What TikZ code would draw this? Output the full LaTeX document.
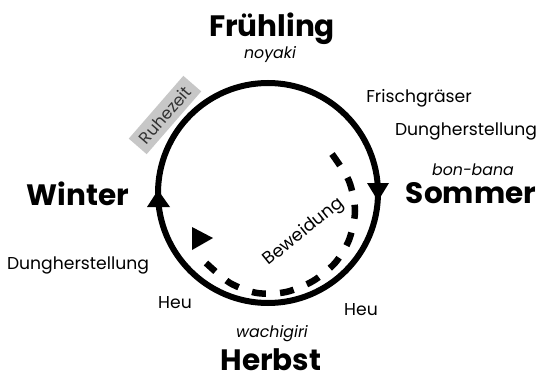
\documentclass[tikz,border=0pt]{standalone}
\usepackage{fontspec}
\setmainfont{Poppins}
\usetikzlibrary{arrows.meta}
\begin{document}
\begin{tikzpicture}[x=1pt,y=-1pt,
  season/.style={font=\fontsize{29.5}{30}\selectfont\bfseries, anchor=base, inner sep=0pt},
  jp/.style={font=\fontsize{15.8}{16}\selectfont\itshape, anchor=base, inner sep=0pt},
  lbl/.style={font=\fontsize{17.2}{18}\selectfont, anchor=base, inner sep=0pt},
  ring/.style={line width=6pt},
  dashring/.style={line width=6.5pt, dash pattern=on 14pt off 14.2pt},
  tri/.style={fill=black}]
\useasboundingbox (0,0) rectangle (539,380);
% main cycle
\coordinate (c) at (268,193);
\draw[ring] (c) circle [radius=110];
% arrowheads on the ring
\fill[tri] (158,190) -- (170,207) -- (147,207) -- cycle;
\fill[tri] (378,201) -- (367,183) -- (389,183) -- cycle;
% dashed grazing path
\draw[dashring] plot[smooth] coordinates {(332,154) (349,181) (355,211) (349,240) (335,263) (313,281) (286,292) (257,293) (230,283) (206,263)};
\fill[tri] (213,238) -- (192,227) -- (192,250) -- cycle;
% seasons
\node[season] (fr) at (272,36) {Frühling};
\node[season] (wi) at (78,205) {Winter};
\node[season] (so) at (471,203) {Sommer};
\node[season, text depth=0pt] (he) at (271,370) {Herbst};
% japanese names
\node[jp] (noy) at (270,58) {noyaki};
\node[jp] (bon) at (473,175) {bon-bana};
\node[jp] (wac) at (272,337) {wachigiri};
% activities
\node[lbl] (fg) at (419,102) {Frischgräser};
\node[lbl] (dr) at (466,135) {Dungherstellung};
\node[lbl] (dl) at (78,269) {Dungherstellung};
\node[lbl] (hl) at (175,308) {Heu};
\node[lbl] (hr) at (361,315) {Heu};
% rotated labels
\node[fill=black!22, text=black!80, font=\fontsize{16.5}{17}\selectfont, rotate=49, inner xsep=7pt, inner ysep=5.5pt] (ru) at (165,115) {Ruhezeit};
\node[font=\fontsize{17.5}{18}\selectfont, rotate=39, inner sep=0pt] (be) at (304,232) {Beweidung};
\end{tikzpicture}
\end{document}
